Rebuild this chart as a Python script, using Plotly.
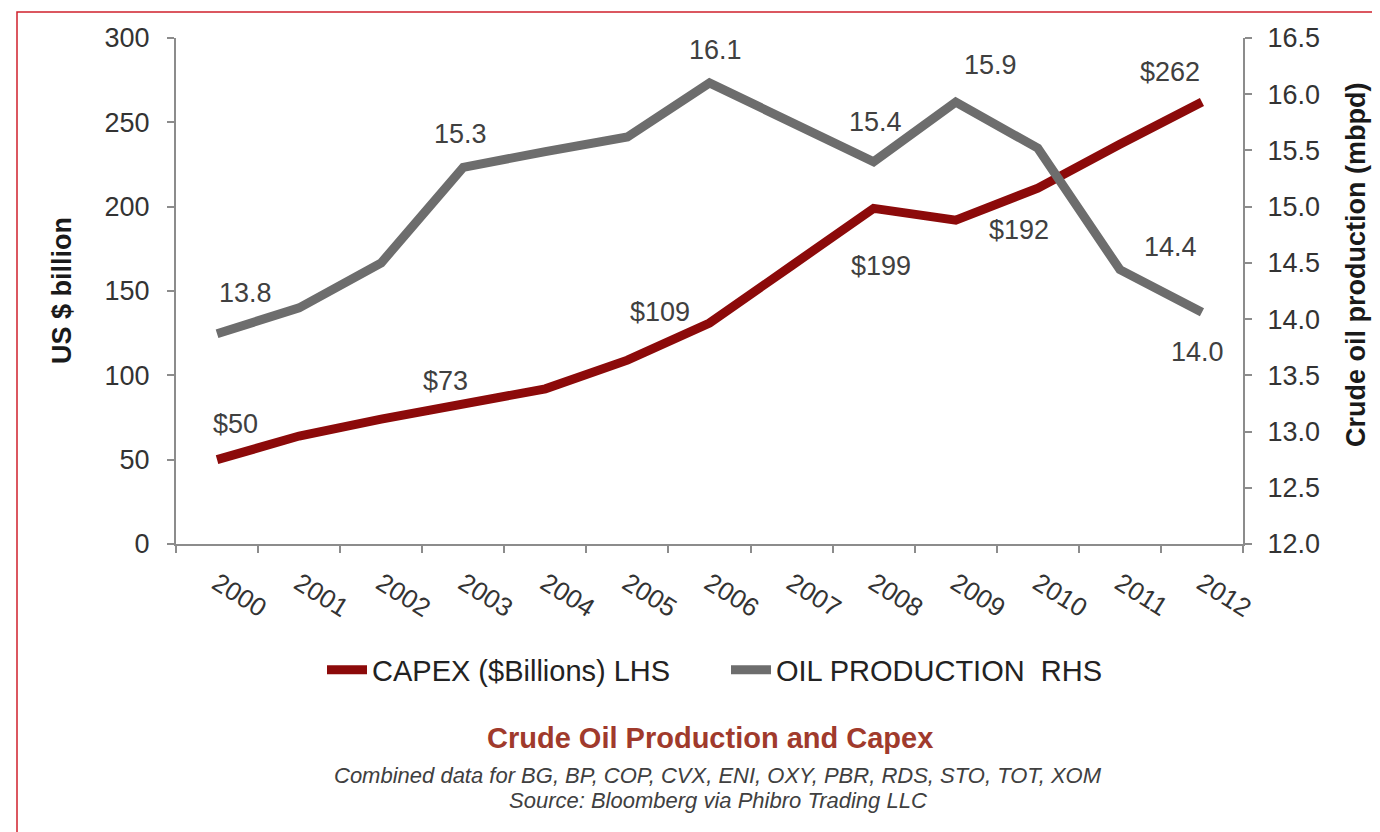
import plotly.graph_objects as go

years = ["2000", "2001", "2002", "2003", "2004", "2005", "2006",
         "2007", "2008", "2009", "2010", "2011", "2012"]
capex = [50, 64, 74, 83, 92, 109, 131, 165, 199, 192, 211, 237, 262]
oil = [13.87, 14.1, 14.5, 15.35, 15.49, 15.62, 16.1, 15.75, 15.4, 15.93, 15.52, 14.44, 14.06]

capex_label_years = ["2000", "2002", "2005", "2008", "2009", "2012"]
capex_label_text = ["$50", "$73", "$109", "$199", "$192", "$262"]
oil_label_years = ["2000", "2003", "2006", "2008", "2009", "2011", "2012"]
oil_label_text = ["13.8", "15.3", "16.1", "15.4", "15.9", "14.4", "14.0"]

left_ticks = [0, 50, 100, 150, 200, 250, 300]
right_ticks = [12.0, 12.5, 13.0, 13.5, 14.0, 14.5, 15.0, 15.5, 16.0, 16.5]

# label offsets in pixels (style, not data)
capex_shift = [(18, 36), (64, 38), (33, 48), (7, -58), (63, -10), (-32, 30)]
oil_shift = [(28, 41), (-3, 33), (6, 33), (2, 40), (35, 37), (51, 23), (-4, -40)]

OFF = 8  # page body margin
W, H = 1380 - OFF, 832 - OFF
L, T = 176 - OFF, 38 - OFF
PW, PH = 1067, 506
R = W - L - PW
B = H - T - PH


def px(x):
    return (x - 176) / PW


def py(y):
    return (544 - y) / PH


RED = "#8c0a0a"
GREY = "#6d6d6d"
TXT = "#404040"
AX = "#8c8c8c"
FONT = "Liberation Sans, Arial, sans-serif"

fig = go.Figure()
fig.add_trace(go.Scatter(x=years, y=capex, mode="lines", name="CAPEX ($Billions) LHS",
                         line=dict(color=RED, width=9), yaxis="y"))
fig.add_trace(go.Scatter(x=years, y=oil, mode="lines", name="OIL PRODUCTION  RHS",
                         line=dict(color=GREY, width=9), yaxis="y2"))

annotations = []
for yr, t, (dx, dy) in zip(capex_label_years, capex_label_text, capex_shift):
    i = years.index(yr)
    annotations.append(dict(x=i, y=capex[i], xref="x", yref="y", text=t,
                            showarrow=False, xshift=dx, yshift=dy,
                            font=dict(size=27, color=TXT, family=FONT)))
for yr, t, (dx, dy) in zip(oil_label_years, oil_label_text, oil_shift):
    i = years.index(yr)
    annotations.append(dict(x=i, y=oil[i], xref="x", yref="y2", text=t,
                            showarrow=False, xshift=dx, yshift=dy,
                            font=dict(size=27, color=TXT, family=FONT)))


def note(x, y, text, size, color, angle=0):
    return dict(x=px(x), y=py(y), xref="paper", yref="paper", text=text,
                textangle=angle, showarrow=False, xanchor="center", yanchor="middle",
                font=dict(size=size, color=color, family=FONT))


annotations += [
    note(62, 291, "<b>US $ billion</b>", 27, "#1a1a1a", -90),
    note(1356, 265, "<b>Crude oil production (mbpd)</b>", 27, "#1a1a1a", -90),
    note(710, 738, "<b>Crude Oil Production and Capex</b>", 29, "#a03a2c"),
    note(718, 775, "<i>Combined data for BG, BP, COP, CVX, ENI, OXY, PBR, RDS, STO, TOT, XOM</i>",
         22, TXT),
    note(718, 800, "<i>Source: Bloomberg via Phibro Trading LLC</i>", 22, TXT),
]

fig.update_layout(
    width=W, height=H,
    margin=dict(l=L, r=R, t=T, b=B, pad=0),
    paper_bgcolor="white", plot_bgcolor="white",
    font=dict(family=FONT, color=TXT),
    showlegend=True,
    legend=dict(orientation="h", x=px(726), y=py(670), xanchor="center", yanchor="middle",
                font=dict(size=29, color="#222222", family=FONT), itemwidth=40,
                entrywidth=349, bgcolor="rgba(0,0,0,0)", traceorder="normal"),
    xaxis=dict(type="category", showgrid=False, showline=True, linecolor=AX, linewidth=2,
               ticks="outside", tickson="boundaries", ticklen=7, tickcolor=AX, tickwidth=2,
               tickangle=32, tickfont=dict(size=26, color="#333333", family=FONT),
               range=[-0.5, len(years) - 0.5], zeroline=False, ticklabelstandoff=12),
    yaxis=dict(range=[0, 300], tickvals=left_ticks, showgrid=False, showline=True,
               linecolor=AX, linewidth=2, ticks="outside", ticklen=7, tickcolor=AX,
               tickwidth=2, tickfont=dict(size=27, color="#333333", family=FONT),
               zeroline=False, ticklabelstandoff=12),
    yaxis2=dict(range=[12, 16.5], tickvals=right_ticks, tickformat=".1f", overlaying="y",
                side="right", showgrid=False, showline=True, linecolor=AX, linewidth=2,
                ticks="outside", ticklen=7, tickcolor=AX, tickwidth=2,
                tickfont=dict(size=27, color="#333333", family=FONT), zeroline=False,
                ticklabelstandoff=10),
    annotations=annotations,
    shapes=[dict(type="rect", xref="paper", yref="paper", x0=px(17), x1=px(1420),
                 y0=py(12), y1=py(900), line=dict(color="#d0202c", width=1.5),
                 fillcolor="rgba(0,0,0,0)", layer="above")],
)

fig.write_html("out.html")
